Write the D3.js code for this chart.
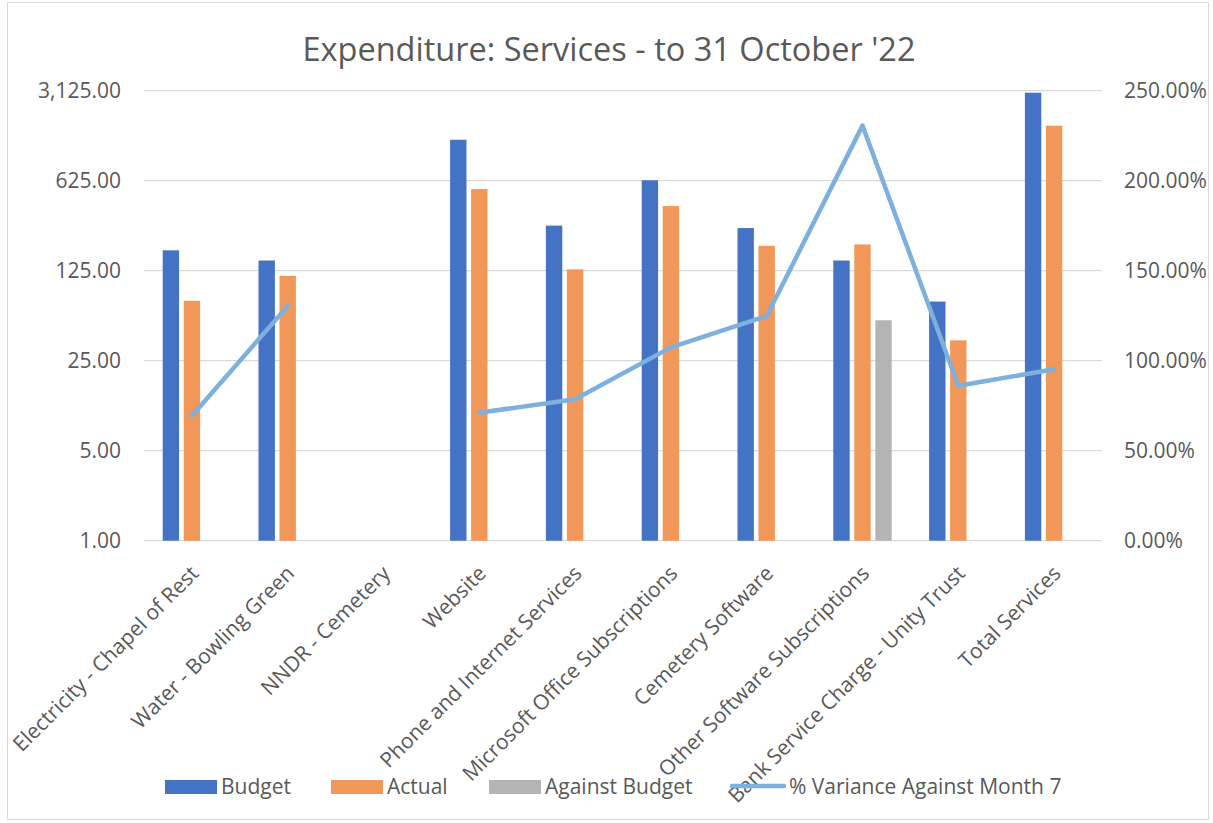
<!DOCTYPE html>
<html>
<head>
<meta charset="utf-8">
<script src="https://cdn.jsdelivr.net/npm/d3@7"></script>
<style>
  body { margin: 0; background: #fff; }
  text { font-family: "Open Sans", Lato, sans-serif; fill: #595959; }
</style>
</head>
<body>
<div id="chart"></div>
<script>
const categories = [
  'Electricity - Chapel of Rest', 'Water - Bowling Green', 'NNDR - Cemetery', 'Website',
  'Phone and Internet Services', 'Microsoft Office Subscriptions', 'Cemetery Software',
  'Other Software Subscriptions', 'Bank Service Charge - Unity Trust', 'Total Services'
];
const budget = [180, 150, null, 1300, 280, 630, 268, 150, 72, 3015];
const actual = [73, 114, null, 538, 128, 397, 195, 200, 36, 1671];
const againstBudget = [null, null, null, null, null, null, null, 51.5, null, null];
const variance = [0.694, 1.304, null, 0.711, 0.786, 1.074, 1.248, 2.306, 0.861, 0.952];
const seriesNames = ['Budget', 'Actual', 'Against Budget'];
const leftTicks = [1, 5, 25, 125, 625, 3125];
const rightTicks = [0, 0.5, 1, 1.5, 2, 2.5];

const colors = { Budget: '#4472C4', Actual: '#F19759', 'Against Budget': '#B4B4B4' };
const lineColor = '#7DB0DD';
const fs = '21px';

const W = 1213, H = 823;
const margin = { top: 90.7, right: 111, bottom: 282.3, left: 144 };
const width = W - margin.left - margin.right,
  height = H - margin.top - margin.bottom;

const svg = d3.select('#chart').append('svg')
  .attr('width', W).attr('height', H);

// chart border
svg.append('rect')
  .attr('x', 7.5).attr('y', 2.5).attr('width', 1201).attr('height', 817)
  .attr('fill', 'none').attr('stroke', '#D9D9D9');

svg.append('text')
  .attr('x', 609).attr('y', 61)
  .attr('text-anchor', 'middle')
  .style('font-size', '32.5px')
  .text("Expenditure: Services - to 31 October '22");

const g = svg.append('g').attr('transform', 'translate(' + margin.left + ',' + margin.top + ')');

const x = d3.scaleBand().domain(categories).range([0, width]).padding(0);
const x1 = d3.scaleBand().domain(seriesNames).range([0, x.bandwidth()])
  .paddingInner(0.22).paddingOuter(0.89);
const y = d3.scaleLog().base(5).domain([1, 3125]).range([height, 0]);
const y2 = d3.scaleLinear().domain([0, 2.5]).range([height, 0]);

// gridlines
g.append('g').selectAll('line').data(leftTicks).enter().append('line')
  .attr('x1', 0).attr('x2', width)
  .attr('y1', d => y(d)).attr('y2', d => y(d))
  .attr('stroke', '#D9D9D9').attr('stroke-width', 1.3);

// left axis
const yAxis = g.append('g')
  .call(d3.axisLeft(y).tickValues(leftTicks).tickFormat(d3.format(',.2f')).tickSize(0).tickPadding(23));
yAxis.select('.domain').remove();
yAxis.selectAll('text').style('font-size', fs).attr('fill', '#595959');

// right axis
const yAxis2 = g.append('g').attr('transform', 'translate(' + width + ',0)')
  .call(d3.axisRight(y2).tickValues(rightTicks).tickFormat(d3.format('.2%')).tickSize(0).tickPadding(22));
yAxis2.select('.domain').remove();
yAxis2.selectAll('text').style('font-size', fs).attr('fill', '#595959');

// category labels
const xAxis = g.append('g').attr('transform', 'translate(0,' + height + ')')
  .call(d3.axisBottom(x).tickSize(0).tickPadding(0));
xAxis.select('.domain').remove();
xAxis.selectAll('text')
  .style('font-size', fs).attr('fill', '#595959')
  .attr('text-anchor', 'end')
  .attr('dy', 0)
  .attr('transform', 'translate(8,34) rotate(-45)');

// bars
const rows = categories.map((c, i) => ({
  cat: c,
  vals: [
    { s: 'Budget', v: budget[i] },
    { s: 'Actual', v: actual[i] },
    { s: 'Against Budget', v: againstBudget[i] }
  ].filter(d => d.v != null)
}));

g.append('g').selectAll('g').data(rows).enter().append('g')
  .attr('transform', d => 'translate(' + x(d.cat) + ',0)')
  .selectAll('rect').data(d => d.vals).enter().append('rect')
  .attr('x', d => x1(d.s))
  .attr('width', x1.bandwidth())
  .attr('y', d => y(d.v))
  .attr('height', d => height - y(d.v))
  .attr('fill', d => colors[d.s]);

// variance line
const line = d3.line()
  .defined(d => d.v != null)
  .x(d => x(d.cat) + x.bandwidth() / 2)
  .y(d => y2(d.v));

g.append('path')
  .datum(categories.map((c, i) => ({ cat: c, v: variance[i] })))
  .attr('d', line)
  .attr('fill', 'none')
  .attr('stroke', lineColor)
  .attr('stroke-width', 4.5)
  .attr('stroke-linecap', 'round')
  .attr('stroke-linejoin', 'round');

// legend
const legendItems = [
  { name: 'Budget', x: 165, type: 'rect' },
  { name: 'Actual', x: 331, type: 'rect' },
  { name: 'Against Budget', x: 489, type: 'rect' },
  { name: '% Variance Against Month 7', x: 730, type: 'line' }
];
const lg = svg.append('g');
legendItems.forEach(d => {
  if (d.type === 'rect') {
    lg.append('rect').attr('x', d.x).attr('y', 780).attr('width', 52).attr('height', 14)
      .attr('fill', colors[d.name]);
    lg.append('text').attr('x', d.x + 56).attr('y', 794).style('font-size', fs).text(d.name);
  } else {
    lg.append('line').attr('x1', d.x + 2).attr('x2', d.x + 54).attr('y1', 786).attr('y2', 786)
      .attr('stroke', lineColor).attr('stroke-width', 4.5).attr('stroke-linecap', 'round');
    lg.append('text').attr('x', d.x + 59).attr('y', 794).style('font-size', fs).text(d.name);
  }
});
</script>
</body>
</html>
